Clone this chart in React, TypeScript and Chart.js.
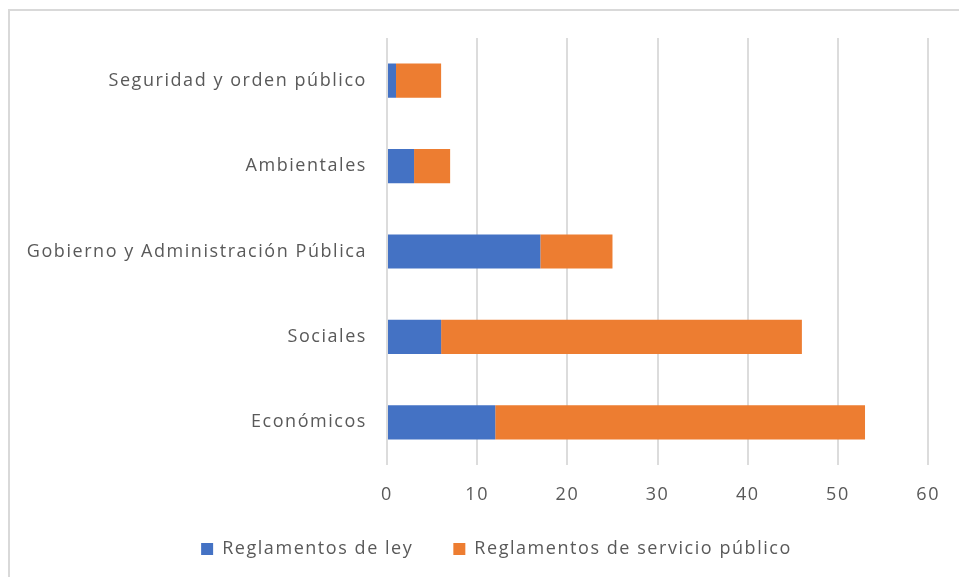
import React, { useEffect, useRef } from "react";
import { Chart, registerables } from "chart.js";

Chart.register(...registerables);

const categories = [
  "Seguridad y orden público",
  "Ambientales",
  "Gobierno y Administración Pública",
  "Sociales",
  "Económicos",
];
const reglamentosLey = [1, 3, 17, 6, 12];
const reglamentosServicio = [5, 4, 8, 40, 41];
const seriesNames = ["Reglamentos de ley", "Reglamentos de servicio público"];
const xMin = 0;
const xMax = 60;
const xStep = 10;

const FONT = "'Open Sans', sans-serif";
const TEXT = "#595959";
const SPACING = "1.55px";

const spacingPlugin = {
  id: "letterSpacing",
  beforeUpdate(chart: any) {
    (chart.ctx as any).letterSpacing = SPACING;
  },
  beforeLayout(chart: any) {
    (chart.ctx as any).letterSpacing = SPACING;
  },
  afterLayout(chart: any) {
    const lg = chart.legend;
    if (lg) {
      const shift = 31;
      lg.left += shift;
      lg.right += shift;
    }
    const xs = chart.scales.x;
    if (xs) xs.bottom = xs.top + 60;
  },
  beforeDraw(chart: any) {
    (chart.ctx as any).letterSpacing = SPACING;
  },
};

export default function App() {
  const ref = useRef<HTMLCanvasElement | null>(null);
  useEffect(() => {
    if (!ref.current) return;
    const chart = new Chart(ref.current, {
      type: "bar",
      data: {
        labels: categories,
        datasets: [
          {
            label: seriesNames[0],
            data: reglamentosLey,
            backgroundColor: "#4472C4",
            borderWidth: 0,
            categoryPercentage: 0.4,
            barPercentage: 1,
          },
          {
            label: seriesNames[1],
            data: reglamentosServicio,
            backgroundColor: "#ED7D31",
            borderWidth: 0,
            categoryPercentage: 0.4,
            barPercentage: 1,
          },
        ],
      },
      plugins: [spacingPlugin],
      options: {
        indexAxis: "y",
        responsive: false,
        animation: false,
        maintainAspectRatio: false,
        layout: { padding: { top: 38, right: 28, left: 0, bottom: 9 } },
        scales: {
          x: {
            stacked: true,
            min: xMin,
            max: xMax,
            ticks: {
              stepSize: xStep,
              color: TEXT,
              font: { family: FONT, size: 18 },
              padding: 19,
            },
            grid: { color: "#dcdcdc", lineWidth: 2, drawTicks: false },
            border: { display: false },
            afterFit(scale: any) {
              scale.height = 35;
            },
          },
          y: {
            stacked: true,
            ticks: {
              color: TEXT,
              font: { family: FONT, size: 18 },
              padding: 20,
            },
            grid: { display: false, drawTicks: false },
            border: { display: false },
            afterFit(scale: any) {
              scale.width = 387;
            },
          },
        },
        plugins: {
          legend: {
            position: "bottom",
            labels: {
              color: TEXT,
              font: { family: FONT, size: 18 },
              boxWidth: 12,
              boxHeight: 12,
              padding: 40,
            },
          },
          tooltip: { enabled: false },
          title: { display: false },
        },
      },
    });
    return () => chart.destroy();
  }, []);
  return (
    <div style={{ position: "absolute", left: 0, top: 0, width: 959, height: 577, overflow: "hidden", background: "#fff" }}>
      <div
        style={{
          position: "absolute",
          left: 8,
          top: 9,
          width: 1000,
          height: 700,
          border: "2px solid #d9d9d9",
          boxSizing: "border-box",
        }}
      />
      <canvas ref={ref} width={959} height={577} style={{ position: "absolute", left: 0, top: 0 }} />
    </div>
  );
}
